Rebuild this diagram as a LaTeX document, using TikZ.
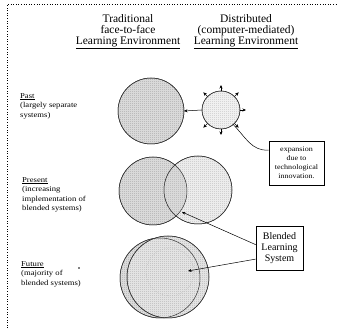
\documentclass[tikz,border=0pt]{standalone}
\usepackage{fontspec}
\setmainfont{Liberation Serif}
\newfontfamily\widefont[FakeStretch=1.15]{Liberation Serif}
\usetikzlibrary{arrows.meta,calc,patterns.meta}
\tikzdeclarepattern{name=dotgrid, type=uncolored,
  bottom left={(0pt,0pt)}, top right={(2pt,2pt)}, tile size={(2pt,2pt)},
  code={\fill (0pt,0pt) rectangle (1pt,1pt);}}
\begin{document}
\begin{tikzpicture}[x=1pt,y=-1pt,
  hdr/.style={align=center, font=\fontsize{11.5}{11}\selectfont, inner sep=0},
  lbl/.style={align=left, anchor=north west, font=\widefont\fontsize{7.5}{9.5}\selectfont, inner sep=0},
  ring/.style={circle, draw=black!80, line width=0.5pt, inner sep=0, outer sep=0},
  arr/.style={-{Stealth[length=3.5pt,width=3pt]}, line width=0.5pt},
  box/.style={draw, line width=0.6pt, align=center, inner sep=0},
  tex/.style={pattern=dotgrid, pattern color=gray!85},
]
\useasboundingbox (0,0) rectangle (338,328);
\draw[dotted, line width=0.6pt] (7,328) -- (7,4) -- (338,4);

% headers
\node[hdr] (hT) at (128,32) {Traditional\\face-to-face\\\underline{Learning Environment}};
\node[hdr] (hD) at (246,32) {Distributed\\(computer-mediated)\\\underline{Learning Environment}};

% row labels
\node[lbl] (lpast) at (20,93) {\underline{Past}\\(largely separate\\systems)};
\node[lbl] (lpres) at (22,177) {\underline{Present}\\(increasing\\implementation of\\blended systems)};
\node[lbl] (lfut) at (21,261) {\underline{Future}\\(majority of\\blended systems)};
\node[circle, fill, inner sep=0.6pt] (dot) at (79,268) {};

% past
\node[ring, fill=gray!30, minimum size=66pt] (pastT) at (151,111) {};
\fill[tex] (151,111) circle (33);
\node[ring, fill=gray!12, minimum size=38pt] (pastD) at (221,110) {};
\fill[pattern=dotgrid, pattern color=gray!60] (221,110) circle (19);
\draw[black!80, line width=0.5pt] (151,111) circle (33);
\draw[black!80, line width=0.5pt] (221,110) circle (19);
\foreach \a in {90,45,135,0,225,270,315}
  \draw[arr] (pastD.\a) -- ($(pastD.\a)+(\a:6pt)$);
\draw[arr] (pastD.west) -- (pastT.east);

\node[box, minimum width=55pt, minimum height=44pt, font=\widefont\fontsize{7}{9}\selectfont] (exp) at (296.5,163) {expansion\\due to\\technological\\innovation.};
\draw[line width=0.5pt] (exp.155) to[out=185,in=-45] (pastD.-50);

% present
\node[ring, fill=gray!30, minimum size=68pt] (presT) at (153,191) {};
\node[ring, fill=gray!15, minimum size=68pt] (presD) at (198,190) {};
\fill[tex] (153,191) circle (34);
\fill[pattern=dotgrid, pattern color=gray!65] (198,190) circle (34);
\begin{scope}
  \clip (153,191) circle (34);
  \fill[gray!30] (198,190) circle (34);
  \fill[pattern=dotgrid, pattern color=gray!75] (198,190) circle (34);
\end{scope}
\draw[black!80, line width=0.5pt] (153,191) circle (34);
\draw[black!80, line width=0.5pt] (198,190) circle (34);

% future
\node[ring, fill=gray!28, minimum size=80pt] (futT) at (160,278) {};
\fill[tex] (160,278) circle (40);
\node[ring, fill=gray!22, minimum size=82pt] (futD) at (168,277) {};
\fill[pattern=dotgrid, pattern color=gray!75] (168,277) circle (41);
\draw[black!80, line width=0.5pt] (160,278) circle (40);
\draw[black!80, line width=0.5pt] (168,277) circle (41);
\node[circle, draw=gray!60, dotted, line width=0.5pt, minimum size=48pt, inner sep=0] (futB) at (170,272) {};

% blended box
\node[box, minimum width=47pt, minimum height=44pt, font=\fontsize{10}{11}\selectfont] (bls) at (279.5,248) {Blended\\Learning\\System};
\coordinate (ov) at (182,212);
\coordinate (fc) at (188,271);
\draw[arr] (bls.172) -- (ov);
\draw[arr] (bls.205) -- (fc);
\end{tikzpicture}
\end{document}
